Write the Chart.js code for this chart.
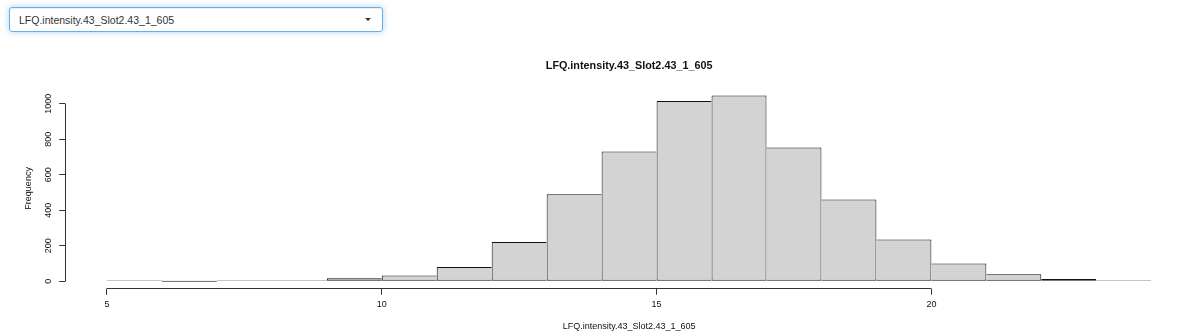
<!DOCTYPE html>
<html>
<head>
<meta charset="utf-8">
<title>LFQ intensity histogram</title>
<script src="https://cdn.jsdelivr.net/npm/chart.js@4.4.1/dist/chart.umd.min.js"></script>
<style>
  html, body { margin: 0; padding: 0; background: #fff; overflow: hidden; width: 1186px; height: 334px; }
  .picker {
    position: absolute; left: 9px; top: 7px; width: 372px; height: 23px;
    border: 1px solid #66afe9; border-radius: 3px;
    box-shadow: inset 0 1px 1px rgba(0,0,0,.075), 0 0 6px rgba(102,175,233,.55);
    font: 10.5px 'Liberation Sans', Arial, sans-serif; color: #333;
  }
  .picker span { position: absolute; left: 9px; top: 50%; transform: translateY(-50%); white-space: nowrap; }
  .picker .caret {
    position: absolute; right: 11px; top: 10px; width: 0; height: 0;
    border-left: 3px solid transparent; border-right: 3px solid transparent; border-top: 3px solid #333;
  }
  #wrap { position: absolute; left: 0; top: 40px; }
</style>
</head>
<body>
<div class="picker"><span>LFQ.intensity.43_Slot2.43_1_605</span><i class="caret"></i></div>
<div id="wrap"><canvas id="hist" width="1193" height="294"></canvas></div>
<script>
// Histogram bins (left edges, width 1) and their counts
const binStart = [5, 6, 7, 8, 9, 10, 11, 12, 13, 14, 15, 16, 17, 18, 19, 20, 21, 22, 23];
const binWidth = 1;
const counts   = [2, 0, 3, 5, 17, 32, 80, 221, 490, 730, 1015, 1046, 753, 460, 235, 100, 39, 13, 3];

// Axis ticks and labels
const xTicks = [5, 10, 15, 20];
const yTicks = [0, 200, 400, 600, 800, 1000];
const mainTitle = 'LFQ.intensity.43_Slot2.43_1_605';
const xLabel = 'LFQ.intensity.43_Slot2.43_1_605';
const yLabel = 'Frequency';

// R-style axis limits: data range padded by 4% on each side
const lo = binStart[0];
const hi = binStart[binStart.length - 1] + binWidth;
const maxCount = Math.max(...counts);
const xMin = lo - 0.04 * (hi - lo), xMax = hi + 0.04 * (hi - lo);
const yMin = -0.04 * maxCount, yMax = maxCount * 1.04;

const FONT = "'Liberation Sans', Arial, Helvetica, sans-serif";
const AXIS_COLOR = '#333';
const TEXT_COLOR = '#111';

const align = p => Math.round(p - 0.5) + 0.5;

// Axis lines that run only between the first and last tick
const axisLines = {
  id: 'axisLines',
  afterDraw(chart) {
    const { ctx, chartArea, scales: { x, y } } = chart;
    ctx.save();
    ctx.strokeStyle = AXIS_COLOR;
    ctx.lineWidth = 1;
    ctx.beginPath();
    const by = align(chartArea.bottom);
    ctx.moveTo(align(x.getPixelForValue(xTicks[0])), by);
    ctx.lineTo(align(x.getPixelForValue(xTicks[xTicks.length - 1])), by);
    const lx = align(chartArea.left);
    ctx.moveTo(lx, align(y.getPixelForValue(yTicks[0])));
    ctx.lineTo(lx, align(y.getPixelForValue(yTicks[yTicks.length - 1])));
    ctx.stroke();
    ctx.restore();
  }
};

new Chart(document.getElementById('hist'), {
  type: 'bar',
  data: {
    datasets: [{
      data: binStart.map((s, i) => ({ x: s + binWidth / 2, y: counts[i] })),
      backgroundColor: '#D3D3D3',
      borderColor: '#111',
      borderSkipped: false,
      inflateAmount: 0,
      minBarLength: 1,
      // shared edges are drawn once, by the taller neighbour
      borderWidth: ctx => {
        const i = ctx.dataIndex, c = counts[i];
        const prev = i > 0 ? counts[i - 1] : -1;
        const next = i < counts.length - 1 ? counts[i + 1] : -1;
        return { top: 1, bottom: 1, left: c >= prev ? 1 : 0, right: c > next ? 1 : 0 };
      },
      barPercentage: 1,
      categoryPercentage: 1
    }]
  },
  options: {
    responsive: false,
    animation: false,
    devicePixelRatio: 1,
    layout: { padding: 0 },
    plugins: {
      legend: { display: false },
      tooltip: { enabled: false },
      title: {
        display: true,
        text: mainTitle,
        fullSize: false,
        color: TEXT_COLOR,
        font: { family: FONT, size: 10.8, weight: 'bold', lineHeight: 1.2 },
        padding: { top: 20, bottom: 15.1 }
      }
    },
    scales: {
      x: {
        type: 'linear',
        offset: false,
        min: xMin, max: xMax,
        afterBuildTicks: s => { s.ticks = xTicks.map(v => ({ value: v })); },
        afterFit: s => { s.height = 45.3; },
        grid: { offset: false, drawOnChartArea: false, drawTicks: true, tickLength: 6, color: AXIS_COLOR },
        border: { display: false },
        ticks: { color: TEXT_COLOR, font: { family: FONT, size: 9 }, padding: 4.5, maxRotation: 0, autoSkip: false, callback: v => String(v) },
        title: { display: true, text: xLabel, color: TEXT_COLOR, font: { family: FONT, size: 9 }, padding: { top: 0, bottom: 1.9 } }
      },
      y: {
        type: 'linear',
        min: yMin, max: yMax,
        afterBuildTicks: s => { s.ticks = yTicks.map(v => ({ value: v })); },
        afterFit: s => { s.width = 65.2; },
        grid: { drawOnChartArea: false, drawTicks: true, tickLength: 6, color: AXIS_COLOR },
        border: { display: false },
        ticks: { color: TEXT_COLOR, font: { family: FONT, size: 9 }, padding: 0.5, minRotation: 90, maxRotation: 90, crossAlign: 'center', autoSkip: false, callback: v => String(v) },
        title: { display: true, text: yLabel, color: TEXT_COLOR, font: { family: FONT, size: 9 }, padding: { top: 23, bottom: 0 } }
      }
    }
  },
  plugins: [axisLines]
});
</script>
</body>
</html>
